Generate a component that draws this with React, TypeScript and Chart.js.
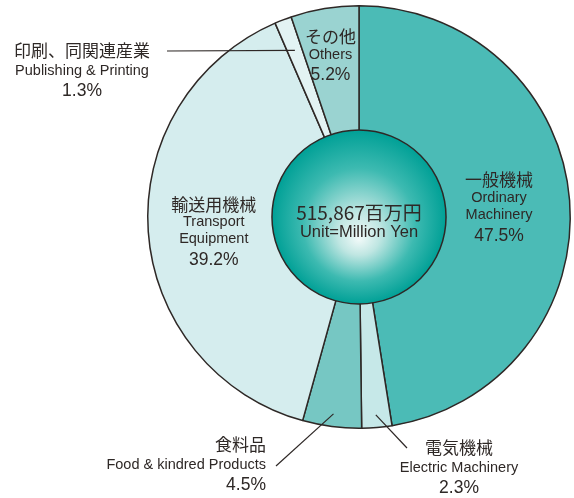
import { useEffect, useRef } from "react";
import { Chart, registerables } from "chart.js";

Chart.register(...registerables);

const categoriesJa = ["一般機械", "電気機械", "食料品", "輸送用機械", "印刷、同関連産業", "その他"];
const categoriesEn = ["Ordinary|Machinery", "Electric Machinery", "Food & kindred Products", "Transport|Equipment", "Publishing & Printing", "Others"];
const shares = [47.5, 2.3, 4.5, 39.2, 1.3, 5.2];
const colors = ["#4BBBB6", "#C6E8E8", "#76C7C3", "#D5EDEE", "#E3F3F3", "#9AD3D1"];
const totalLabel = "515,867百万円";
const unitLabel = "Unit=Million Yen";

const JA = '"Noto Sans CJK JP", sans-serif';
const EN = '"Liberation Sans", "Noto Sans", sans-serif';
const INK = "#2e2826";

// label layout: inside labels on mid-angle at radial fraction; outside labels with leader lines
type Layout =
  | { kind: "inside"; rf: number; dx: number; dy: number }
  | { kind: "outside"; lineRf: number; lineEnd: [number, number]; text: [number, number]; align: CanvasTextAlign };

const layouts: Layout[] = [
  { kind: "inside", rf: 0.665, dx: 0, dy: 2 },
  { kind: "outside", lineRf: 0.94, lineEnd: [407, 448], text: [459, 448], align: "center" },
  { kind: "outside", lineRf: 0.94, lineEnd: [276, 466], text: [266, 445], align: "right" },
  { kind: "inside", rf: 0.689, dx: 0, dy: 5 },
  { kind: "outside", lineRf: 0.845, lineEnd: [167, 51], text: [82, 51], align: "center" },
  { kind: "inside", rf: 0.772, dx: -2, dy: 0 },
];

const overlay = {
  id: "overlay",
  afterDatasetsDraw(chart: any) {
    const ctx: CanvasRenderingContext2D = chart.ctx;
    const meta = chart.getDatasetMeta(0);
    const arc0 = meta.data[0];
    const cx = arc0.x;
    const cy = arc0.y;
    const R = arc0.outerRadius;
    const r = R * 0.412;

    // center circle
    ctx.save();
    const g = ctx.createRadialGradient(cx, cy + 22, 0, cx, cy, r);
    g.addColorStop(0, "#F2FAF9");
    g.addColorStop(0.25, "#BFE6E2");
    g.addColorStop(0.65, "#3DBAB1");
    g.addColorStop(1, "#00A096");
    ctx.beginPath();
    ctx.arc(cx, cy, r, 0, Math.PI * 2);
    ctx.fillStyle = g;
    ctx.fill();
    ctx.lineWidth = 1.5;
    ctx.strokeStyle = INK;
    ctx.stroke();

    ctx.fillStyle = INK;
    ctx.textAlign = "center";
    ctx.textBaseline = "middle";
    ctx.font = `19px ${JA}`;
    ctx.fillText(totalLabel, cx, cy - 4);
    ctx.font = `16.5px ${EN}`;
    ctx.fillText(unitLabel, cx, cy + 15);

    // labels
    meta.data.forEach((arc: any, i: number) => {
      const mid = (arc.startAngle + arc.endAngle) / 2;
      const L = layouts[i];
      const ja = categoriesJa[i];
      const en = categoriesEn[i].split("|");
      const pct = shares[i].toFixed(1) + "%";
      ctx.fillStyle = INK;
      ctx.textBaseline = "middle";
      if (L.kind === "inside") {
        const x = cx + Math.cos(mid) * R * L.rf + L.dx;
        const lines = [ja, ...en, pct];
        const offs = lines.length === 4 ? [0, 18, 35, 56] : [0, 18, 39];
        const total = offs[offs.length - 1];
        const y0 = cy + Math.sin(mid) * R * L.rf - total / 2 + L.dy;
        ctx.textAlign = "center";
        lines.forEach((t, k) => {
          const isEn = k > 0 && k < lines.length - 1;
          ctx.font = k === 0 ? `17px ${JA}` : isEn ? `14.5px ${EN}` : `17.5px ${EN}`;
          ctx.fillText(t, x, y0 + offs[k]);
        });
      } else {
        const sx = cx + Math.cos(mid) * R * L.lineRf;
        const sy = cy + Math.sin(mid) * R * L.lineRf;
        ctx.beginPath();
        ctx.moveTo(sx, sy);
        ctx.lineTo(L.lineEnd[0], L.lineEnd[1]);
        ctx.lineWidth = 1.2;
        ctx.strokeStyle = INK;
        ctx.stroke();
        ctx.textAlign = L.align;
        const [tx, ty] = L.text;
        ctx.font = `17px ${JA}`;
        ctx.fillText(ja, tx, ty);
        ctx.font = `14.5px ${EN}`;
        ctx.fillText(en.join(" "), tx, ty + 20);
        ctx.font = `17.5px ${EN}`;
        ctx.fillText(pct, tx, ty + 40);
      }
    });
    ctx.restore();
  },
};

export default function App() {
  const ref = useRef<HTMLCanvasElement>(null);
  useEffect(() => {
    const chart = new Chart(ref.current!, {
      type: "doughnut",
      data: {
        labels: categoriesJa,
        datasets: [
          {
            data: shares,
            backgroundColor: colors,
            borderColor: INK,
            borderWidth: 1.5,
            borderAlign: "center",
          },
        ],
      },
      options: {
        animation: false,
        responsive: false,
        cutout: "38%",
        rotation: 0,
        events: [],
        layout: { padding: { left: 147, right: 3, top: 5, bottom: 69 } },
        plugins: { legend: { display: false }, tooltip: { enabled: false } },
      },
      plugins: [overlay],
    });
    return () => chart.destroy();
  }, []);
  return (
    <div style={{ position: "fixed", left: 0, top: 0, width: 574, height: 498, background: "#fff" }}>
      <canvas ref={ref} width={574} height={498} style={{ width: 574, height: 498 }} />
    </div>
  );
}
